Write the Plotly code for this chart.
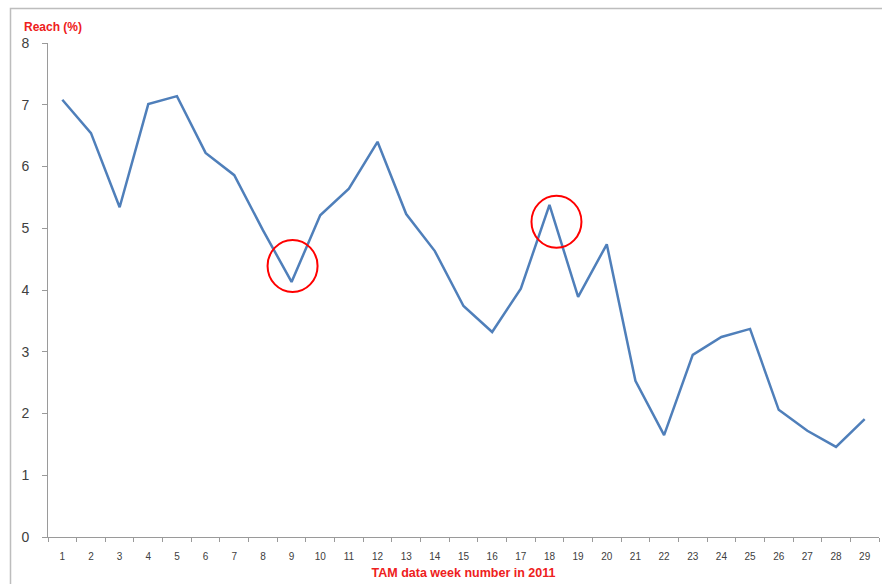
import plotly.graph_objects as go

# Weekly reach figures
weeks = list(range(1, 30))
reach = [7.08, 6.54, 5.34, 7.01, 7.14, 6.22, 5.86, 4.97, 4.13, 5.21,
         5.64, 6.40, 5.23, 4.63, 3.74, 3.32, 4.02, 5.38, 3.89, 4.74,
         2.53, 1.65, 2.95, 3.24, 3.37, 2.06, 1.72, 1.46, 1.91]
week_labels = [str(w) for w in weeks]

# Weeks singled out with a red ring (ring offset from the point, in px)
highlight_weeks = [9, 18]
ring_offsets = [(1, 16), (7, -17)]

W, H = 882, 584
L, R, T, B = 48, 3, 43, 47

fig = go.Figure()
fig.add_trace(go.Scatter(
    x=weeks, y=reach, mode="lines",
    line=dict(color="#4f7fba", width=2.5),
    hoverinfo="x+y", showlegend=False,
))

shapes = []
for wk, (dx, dy) in zip(highlight_weeks, ring_offsets):
    val = reach[weeks.index(wk)]
    shapes.append(dict(
        type="circle", xref="x", yref="y",
        xsizemode="pixel", ysizemode="pixel",
        xanchor=wk, yanchor=val,
        x0=dx - 25, x1=dx + 25, y0=dy - 26, y1=dy + 26,
        line=dict(color="#ff0000", width=2),
    ))

# Outer chart frame (top and left edges visible)
pw, ph = W - L - R, H - T - B
def px_to_paper(px, py):
    return (px - L) / pw, (H - B - py) / ph
fx0, fy0 = px_to_paper(10.5, 8.5)
fx1, fy1 = px_to_paper(W + 20, H + 20)
shapes.append(dict(
    type="rect", xref="paper", yref="paper",
    x0=fx0, y0=fy1, x1=fx1, y1=fy0,
    line=dict(color="#bdbdbd", width=1.5), layer="below",
))

fig.update_layout(
    width=W, height=H,
    margin=dict(l=L, r=R, t=T, b=B),
    paper_bgcolor="white", plot_bgcolor="white",
    font=dict(family="Liberation Sans, Arial, sans-serif", color="#404040"),
    shapes=shapes,
    xaxis=dict(
        range=[weeks[0] - 0.5, weeks[-1] + 0.5],
        tickmode="array", tickvals=weeks, ticktext=week_labels,
        showline=True, linecolor="#9a9a9a", linewidth=1,
        ticks="", showgrid=False, zeroline=False,
        ticklabelstandoff=10,
        minor=dict(tick0=0.5, dtick=1, ticks="outside", ticklen=4,
                   tickcolor="#9a9a9a", showgrid=False),
        tickfont=dict(size=10, color="#404040"),
        title=dict(text="<b>TAM data week number in 2011</b>",
                   font=dict(size=12.5, color="#ee2020"), standoff=7),
    ),
    yaxis=dict(
        range=[0, 8], dtick=1,
        showline=True, linecolor="#9a9a9a", linewidth=1,
        ticks="outside", ticklen=5, tickcolor="#9a9a9a",
        ticklabelstandoff=10,
        showgrid=False, zeroline=False,
        tickfont=dict(size=14, color="#404040"),
    ),
    annotations=[dict(
        text="<b>Reach (%)</b>", xref="paper", yref="paper",
        x=(22 - L) / pw, y=(H - B - 27) / ph,
        xanchor="left", yanchor="middle", showarrow=False,
        font=dict(size=12, color="#ee2020"),
    )],
)

fig.write_html("out.html")
